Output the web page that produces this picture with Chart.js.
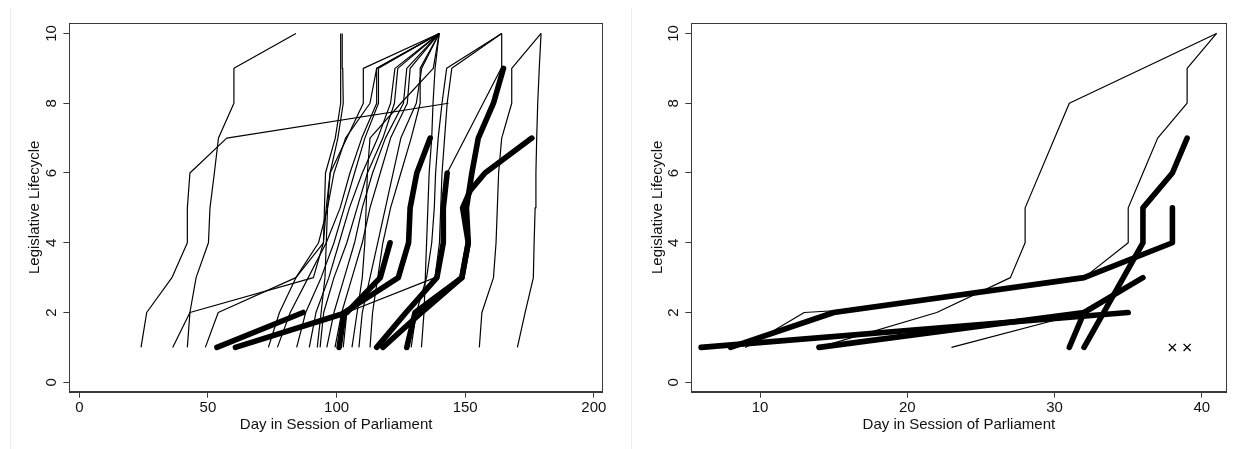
<!DOCTYPE html>
<html><head><meta charset="utf-8">
<script src="https://cdn.jsdelivr.net/npm/chart.js@4.4.1/dist/chart.umd.min.js"></script>
<style>
html,body{margin:0;padding:0;background:#fff;width:1239px;height:449px;overflow:hidden;}
#wrap{position:relative;width:1239px;height:449px;}
canvas{position:absolute;top:0;}
#c1{left:0;} #c2{left:620px;}
.edge{position:absolute;background:#ededed;width:1px;top:8px;height:441px;}
</style></head><body>
<div id="wrap">
<div class="edge" style="left:10px"></div>
<div class="edge" style="left:631px"></div>
<canvas id="c1" width="620" height="449"></canvas>
<canvas id="c2" width="619" height="449"></canvas>
</div>
<script>
// ---- data ----
const yTicks = [0, 2, 4, 6, 8, 10];
const leftXTicks = [0, 50, 100, 150, 200];
const rightXTicks = [10, 20, 30, 40];
const xTitle = 'Day in Session of Parliament';
const yTitle = 'Legislative Lifecycle';

// left panel: thin lines, [day, stage] points
const leftThin = [
  [[24,1],[26.2,2],[36,3],[42,4],[42,5],[43,6],[57.3,7],[143.5,8]],
  [[42,1],[43,2],[45.4,3],[50.2,4],[50.8,5],[52.5,6],[54.1,7],[60.1,8],[60.1,9],[84.2,10]],
  [[36.3,1],[43,2],[91,3],[94.9,4],[95.3,5],[95.7,6],[99.5,7],[101.6,8],[101.6,9],[101.6,10]],
  [[92.5,1],[94,2],[95.5,3],[96,4],[96.5,5],[97.5,6],[100.5,7],[102.6,8],[102.4,9],[102.2,10]],
  [[49,1],[54,2],[84.2,3],[94.9,4],[96,5],[97.5,6],[104,7],[110.4,8],[110.4,9],[139.9,10]],
  [[73.5,1],[77.8,2],[84.2,3],[93,4],[96.5,5],[99,6],[103.5,7],[113,8],[115.6,9],[139.9,10]],
  [[77,1],[82,2],[89,3],[96,4],[101.4,5],[105.2,6],[109.8,7],[115.6,8],[115.6,9],[139.9,10]],
  [[84.5,1],[88,2],[94,3],[99,4],[103,5],[107,6],[111,7],[116.3,8],[116.3,9],[139.9,10]],
  [[89.4,1],[92,2],[97,3],[101,4],[105,5],[110,6],[116,7],[121,8],[122.7,9],[139.9,10]],
  [[93.6,1],[95,2],[99,3],[104,4],[108,5],[112,6],[118,7],[122.5,8],[123.8,9],[139.9,10]],
  [[96.2,1],[99,2],[103,3],[107,4],[110,5],[114,6],[119,7],[126,8],[127.3,9],[139.9,10]],
  [[99.4,1],[102,2],[106,3],[110,4],[113,5],[117,6],[121,7],[127.5,8],[128.6,9],[139.9,10]],
  [[106,1],[108,2],[110,3],[111,4],[111.5,5],[112,6],[113,7],[125,8],[137.6,9],[139.9,10]],
  [[108.7,1],[110,2],[113,3],[116,4],[119,5],[122,6],[125,7],[131,8],[133.1,9],[139.9,10]],
  [[113,1],[114,2],[116,3],[118,4],[121,5],[125,6],[129,7],[132.5,8],[132.5,9],[139.9,10]],
  [[133,1],[134,2],[134.5,3],[135,4],[135.5,5],[136,6],[137,7],[137.5,8],[138.3,9],[139.9,10]],
  [[102.6,1],[104,2],[138.3,3],[140,4],[140.5,5],[141,6],[142,7],[143,8],[144.8,9],[164.2,10]],
  [[129,1],[131,2],[135,3],[137,4],[138,5],[138.5,6],[139.5,7],[141,8],[142.8,9],[164.2,10]],
  [[115.6,1],[127,2],[139,3],[141.5,4],[141.5,5],[143,6],[164,9],[164.2,10]],
  [[155.5,1],[156.5,2],[161,3],[162,4],[162.5,5],[163,6],[164.2,7],[168.1,8],[168.1,9],[179.5,10]],
  [[170.3,1],[173.3,2],[176.5,3],[176.8,4],[177.2,5],[177.5,6],[177.8,7],[178.2,8],[178.8,9],[179.5,10]]
];
// left panel: thick lines
const leftThick = [
  [[53.5,1],[87,2]],
  [[60.7,1],[104,2],[117,3],[120.8,4]],
  [[101,1],[103,2],[124,3],[128,4],[128.6,5],[131.2,6],[136.4,7]],
  [[115.6,1],[127,2],[139,3],[141.5,4],[141.5,5],[143,6]],
  [[127.3,1],[130.5,2],[148.7,3],[151.2,4],[150.5,5],[152.6,6],[155.1,7],[161,8],[164.9,9]],
  [[118,1],[133,2],[148.7,3],[151.2,4],[149,5],[152,5.5],[157.7,6],[175.9,7]]
];
// right panel
const rightThin = [
  [[23,1],[32,2]],
  [[9,1],[13,2],[15,2.05],[32,3],[35,4],[35,5],[36,6],[37,7],[39,8],[39,9],[41,10]],
  [[14,1],[22,2],[27,3],[28,4],[28,5],[31,8],[41,10]]
];
const rightThick = [
  [[6,1],[35,2]],
  [[8,1],[15,2],[32,3],[38,4],[38,5]],
  [[32,1],[36,4],[36,5],[38,6],[39,7]],
  [[14,1],[32,2]],
  [[31,1],[32,2],[36,3]]
];
const rightMarks = [[38,1],[39,1]];

// ---- drawing ----
const FONT = '"Liberation Sans", Arial, Helvetica, sans-serif';
const INK = '#111';
const FRAME = '#3a3a3a';

function toPts(l){ return l.map(([x,y]) => ({x, y})); }

function makeChart(id, cfg){
  const datasets = [];
  if (cfg.marks.length) {
    datasets.push({data: toPts(cfg.marks), showLine:false, pointStyle:'crossRot',
      pointRadius:5, pointBorderWidth:1.3, pointBorderColor:'#000', borderColor:'#000'});
  }
  cfg.thick.forEach(l => datasets.push({data: toPts(l), borderColor:'#000', borderWidth:5.6,
    pointRadius:0, tension:0, borderCapStyle:'round', borderJoinStyle:'round', fill:false}));
  cfg.thin.forEach(l => datasets.push({data: toPts(l), borderColor:'#000', borderWidth:1.2,
    pointRadius:0, tension:0, borderJoinStyle:'round', fill:false}));

  const framePlugin = {
    id: 'frame'+id,
    afterDraw(chart){
      const ctx = chart.ctx, ca = chart.chartArea, ys = chart.scales.y;
      ctx.save();
      ctx.strokeStyle = FRAME; ctx.lineWidth = 1;
      ctx.strokeRect(Math.round(ca.left)+0.5, Math.round(ca.top)+0.5,
        Math.round(ca.right-ca.left), Math.round(ca.bottom-ca.top));
      ctx.fillStyle = INK; ctx.font = '15px ' + FONT;
      ctx.textAlign = 'center'; ctx.textBaseline = 'middle';
      yTicks.forEach(v => {
        const py = ys.getPixelForValue(v);
        ctx.save(); ctx.translate(cfg.yLabelX, py); ctx.rotate(-Math.PI/2);
        ctx.fillText(String(v), 0, 1); ctx.restore();
      });
      ctx.restore();
    }
  };

  new Chart(document.getElementById(id), {
    type: 'line',
    data: {datasets},
    options: {
      responsive:false, animation:false, devicePixelRatio:1,
      layout:{padding:{top:23, right:cfg.padRight, bottom:0, left:0}},
      plugins:{legend:{display:false}, tooltip:{enabled:false}},
      scales:{
        x:{type:'linear', min:cfg.xMin, max:cfg.xMax,
          afterBuildTicks: s => { s.ticks = cfg.xTicks.map(v => ({value:v})); },
          afterFit: s => { s.height = 57.3; },
          grid:{display:true, drawOnChartArea:false, drawTicks:true, tickLength:6, color:FRAME},
          border:{display:true, color:FRAME, width:1},
          ticks:{color:INK, font:{size:15, family:FONT}, padding:1, maxRotation:0, autoSkip:false},
          title:{display:true, text:xTitle, color:INK, font:{size:15, family:FONT}, padding:{top:0, bottom:15.5}}
        },
        y:{type:'linear', min:-0.27, max:10.3,
          afterBuildTicks: s => { s.ticks = yTicks.map(v => ({value:v})); },
          afterFit: s => { s.width = cfg.yAxisW; },
          grid:{display:true, drawOnChartArea:false, drawTicks:true, tickLength:6, color:FRAME},
          border:{display:true, color:FRAME, width:1},
          ticks:{color:'rgba(0,0,0,0)', font:{size:15, family:FONT}},
          title:{display:true, text:yTitle, color:INK, font:{size:15, family:FONT}, padding:{top:cfg.yTitlePad, bottom:0}}
        }
      }
    },
    plugins:[framePlugin]
  });
}

makeChart('c1', {thin:leftThin, thick:leftThick, marks:[], xTicks:leftXTicks,
  xMin:-3.85, xMax:203.5, yAxisW:69.4, padRight:17.2, yTitlePad:26, yLabelX:51.3});
makeChart('c2', {thin:rightThin, thick:rightThick, marks:rightMarks, xTicks:rightXTicks,
  xMin:5.34, xMax:41.66, yAxisW:71.4, padRight:12.7, yTitlePad:28.5, yLabelX:53});
</script>
</body></html>
